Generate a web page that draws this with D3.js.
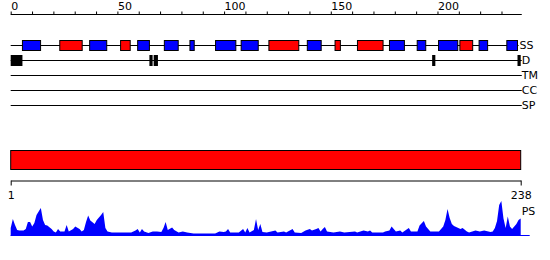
<!DOCTYPE html>
<html>
<head>
<meta charset="utf-8">
<script src="https://cdn.jsdelivr.net/npm/d3@7"></script>
<style>
  html, body { margin: 0; padding: 0; background: #fff; }
  svg { display: block; font-family: "DejaVu Sans", sans-serif; font-size: 11px; }
</style>
</head>
<body>
<svg id="plot" width="550" height="260"></svg>
<script>
// secondary structure (residue ranges)
const strands = [
  [5.5, 14], [37, 45], [59.5, 65], [72, 78.5], [84, 86], [96, 105.5], [108, 116],
  [139, 145.5], [177.5, 184.5], [190.5, 194.5], [200.5, 209.5], [219.5, 223.5], [232.5, 237.5],
];
const helices = [[23, 33.5], [51.5, 56], [121, 135], [152, 154.5], [162.5, 174.5], [210.5, 216.5]];

// disorder segments
const disorder = [[0, 5.5], [65, 66.5], [67, 69], [197.5, 199], [237.5, 239]];

const trackLabels = ["SS", "D", "TM", "CC", "SP"];
const topTicks = [0, 50, 100, 150, 200];
const seqLength = 238;

// per-residue profile [residue, score]
const psProfile = [
  [1, 8], [2, 17], [3, 11], [4, 6], [5, 5.5], [7, 5.5], [8, 7], [9, 14], [10, 14], [11, 9.5],
  [12, 13], [13, 21], [15, 28], [16, 16], [17, 11], [18, 10.5], [20, 7], [21, 4.5], [22, 3.5],
  [23, 7], [24, 4.5], [26, 4.5], [27, 11], [28, 4.5], [30, 7], [31, 9.5], [33, 7], [34, 4.5],
  [35, 6], [36, 14], [37, 20.5], [38, 15.5], [40, 12], [41, 16], [43, 21], [44, 24], [45, 8],
  [46, 4.5], [48, 3.5], [57, 3.5], [59, 5.5], [60, 7], [61, 3.5], [62, 7], [63, 4.5], [65, 3],
  [67, 4.5], [69, 4.5], [71, 4], [72, 8], [73, 14], [74, 6], [76, 8.5], [77, 6], [79, 3.5],
  [81, 4.5], [83, 3.5], [86, 2.5], [96, 2.5], [98, 4.5], [100, 4], [101, 4.5], [102, 7],
  [103, 3.5], [107, 3.5], [109, 7], [110, 3.5], [111, 8], [112, 3.5], [114, 6], [115, 17],
  [116, 6], [117, 12], [118, 4], [120, 3.5], [124, 5.5], [125, 3.5], [128, 4.5], [129, 3.5],
  [132, 7], [133, 3.5], [136, 3], [138, 5.5], [140, 7], [141, 5.5], [143, 7], [144, 8],
  [145, 4.5], [146, 7], [147, 9], [148, 4.5], [151, 3.5], [154, 4.5], [156, 3.5], [161, 4.5],
  [162, 3.5], [165, 5.5], [167, 4.5], [168, 5.5], [169, 3.5], [174, 3.5], [175, 4.5],
  [177, 5.5], [178, 9.5], [180, 4.5], [182, 5.5], [183, 3.5], [186, 8], [187, 4.5], [190, 4.5],
  [191, 10.5], [193, 15], [194, 9.5], [196, 4.5], [200, 4.5], [202, 9.5], [203, 16], [204, 27],
  [205, 18], [206, 12], [207, 10], [208, 9], [210, 7], [211, 8], [213, 4.5], [214, 3.5],
  [217, 5.5], [219, 4.5], [221, 5.5], [224, 4], [225, 4.5], [226, 8], [227, 15], [228, 31],
  [229, 35], [230, 17.5], [231, 8], [232, 19.5], [233, 9.5], [234, 7], [235, 9.5], [236, 12],
  [237, 16], [238, 17.5],
];

const svg = d3.select("#plot");

const x = d3.scaleLinear().domain([0, 239]).range([10.7, 520.7]);
const xRes = d3.scaleLinear().domain([1, seqLength]).range([10.7, 520.7]);
const trackY = d3.scalePoint().domain(trackLabels).range([45.5, 105.5]);
const yPs = d3.scaleLinear().domain([0, 40]).range([236, 196]);

// top ruler
const topAxis = d3.axisTop(x)
  .tickValues(d3.range(0, 231, 10))
  .tickSize(3)
  .tickFormat((d) => (topTicks.includes(d) ? d : ""));

const topG = svg.append("g").attr("transform", "translate(0,14.5)").call(topAxis);
topG.select(".domain").attr("d", `M${x(0)},0H${x(239.5)}`);
topG.selectAll("text")
  .attr("text-anchor", "start")
  .attr("x", 0)
  .attr("y", -5)
  .attr("font-size", 11)
  .attr("font-family", "DejaVu Sans");

// track lines + labels
svg.selectAll("line.track")
  .data(trackLabels)
  .join("line")
  .attr("class", "track")
  .attr("x1", x(0))
  .attr("x2", (d) => (d === "SS" ? x(238) : x(239.5)))
  .attr("y1", (d) => trackY(d))
  .attr("y2", (d) => trackY(d))
  .attr("stroke", "#000");

svg.selectAll("text.track")
  .data(trackLabels)
  .join("text")
  .attr("class", "track")
  .attr("x", (d) => (d === "SS" ? x(238) + 1 : x(239.5)))
  .attr("y", (d) => trackY(d))
  .attr("dy", "0.36em")
  .text((d) => d);

// secondary structure boxes
const ssBoxes = strands.map((s) => ({ s, color: "#0000ff" }))
  .concat(helices.map((s) => ({ s, color: "#ff0000" })));

svg.selectAll("rect.ss")
  .data(ssBoxes)
  .join("rect")
  .attr("class", "ss")
  .attr("x", (d) => x(d.s[0]))
  .attr("width", (d) => x(d.s[1]) - x(d.s[0]))
  .attr("y", trackY("SS") - 5)
  .attr("height", 10)
  .attr("fill", (d) => d.color)
  .attr("stroke", "#000");

// disorder blocks
svg.selectAll("rect.dis")
  .data(disorder)
  .join("rect")
  .attr("class", "dis")
  .attr("x", (d) => x(d[0]))
  .attr("width", (d) => x(d[1]) - x(d[0]))
  .attr("y", trackY("D") - 5.5)
  .attr("height", 11)
  .attr("fill", "#000");

// full-length bar
svg.append("rect")
  .attr("x", xRes(1))
  .attr("width", xRes(seqLength) - xRes(1))
  .attr("y", 150.5)
  .attr("height", 19)
  .attr("fill", "#ff0000")
  .attr("stroke", "#000");

// sequence axis
const seqAxis = d3.axisBottom(xRes).tickValues([1, seqLength]).tickSize(5).tickSizeOuter(0);
const seqG = svg.append("g").attr("transform", "translate(0,180.5)").call(seqAxis);
seqG.selectAll("text").attr("y", 11).attr("font-size", 11).attr("font-family", "DejaVu Sans");

// profile
const area = d3.area()
  .x((d) => xRes(d[0]))
  .y0(yPs(0))
  .y1((d) => yPs(d[1]));

svg.append("line")
  .attr("x1", xRes(1))
  .attr("x2", xRes(seqLength) + 9)
  .attr("y1", yPs(0) - 0.5)
  .attr("y2", yPs(0) - 0.5)
  .attr("stroke", "#0000ff");

svg.append("path")
  .datum(psProfile)
  .attr("d", area)
  .attr("fill", "#0000ff");

svg.append("text")
  .attr("x", xRes(seqLength) + 1)
  .attr("y", 211.5)
  .attr("dy", "0.36em")
  .text("PS");
</script>
</body>
</html>
